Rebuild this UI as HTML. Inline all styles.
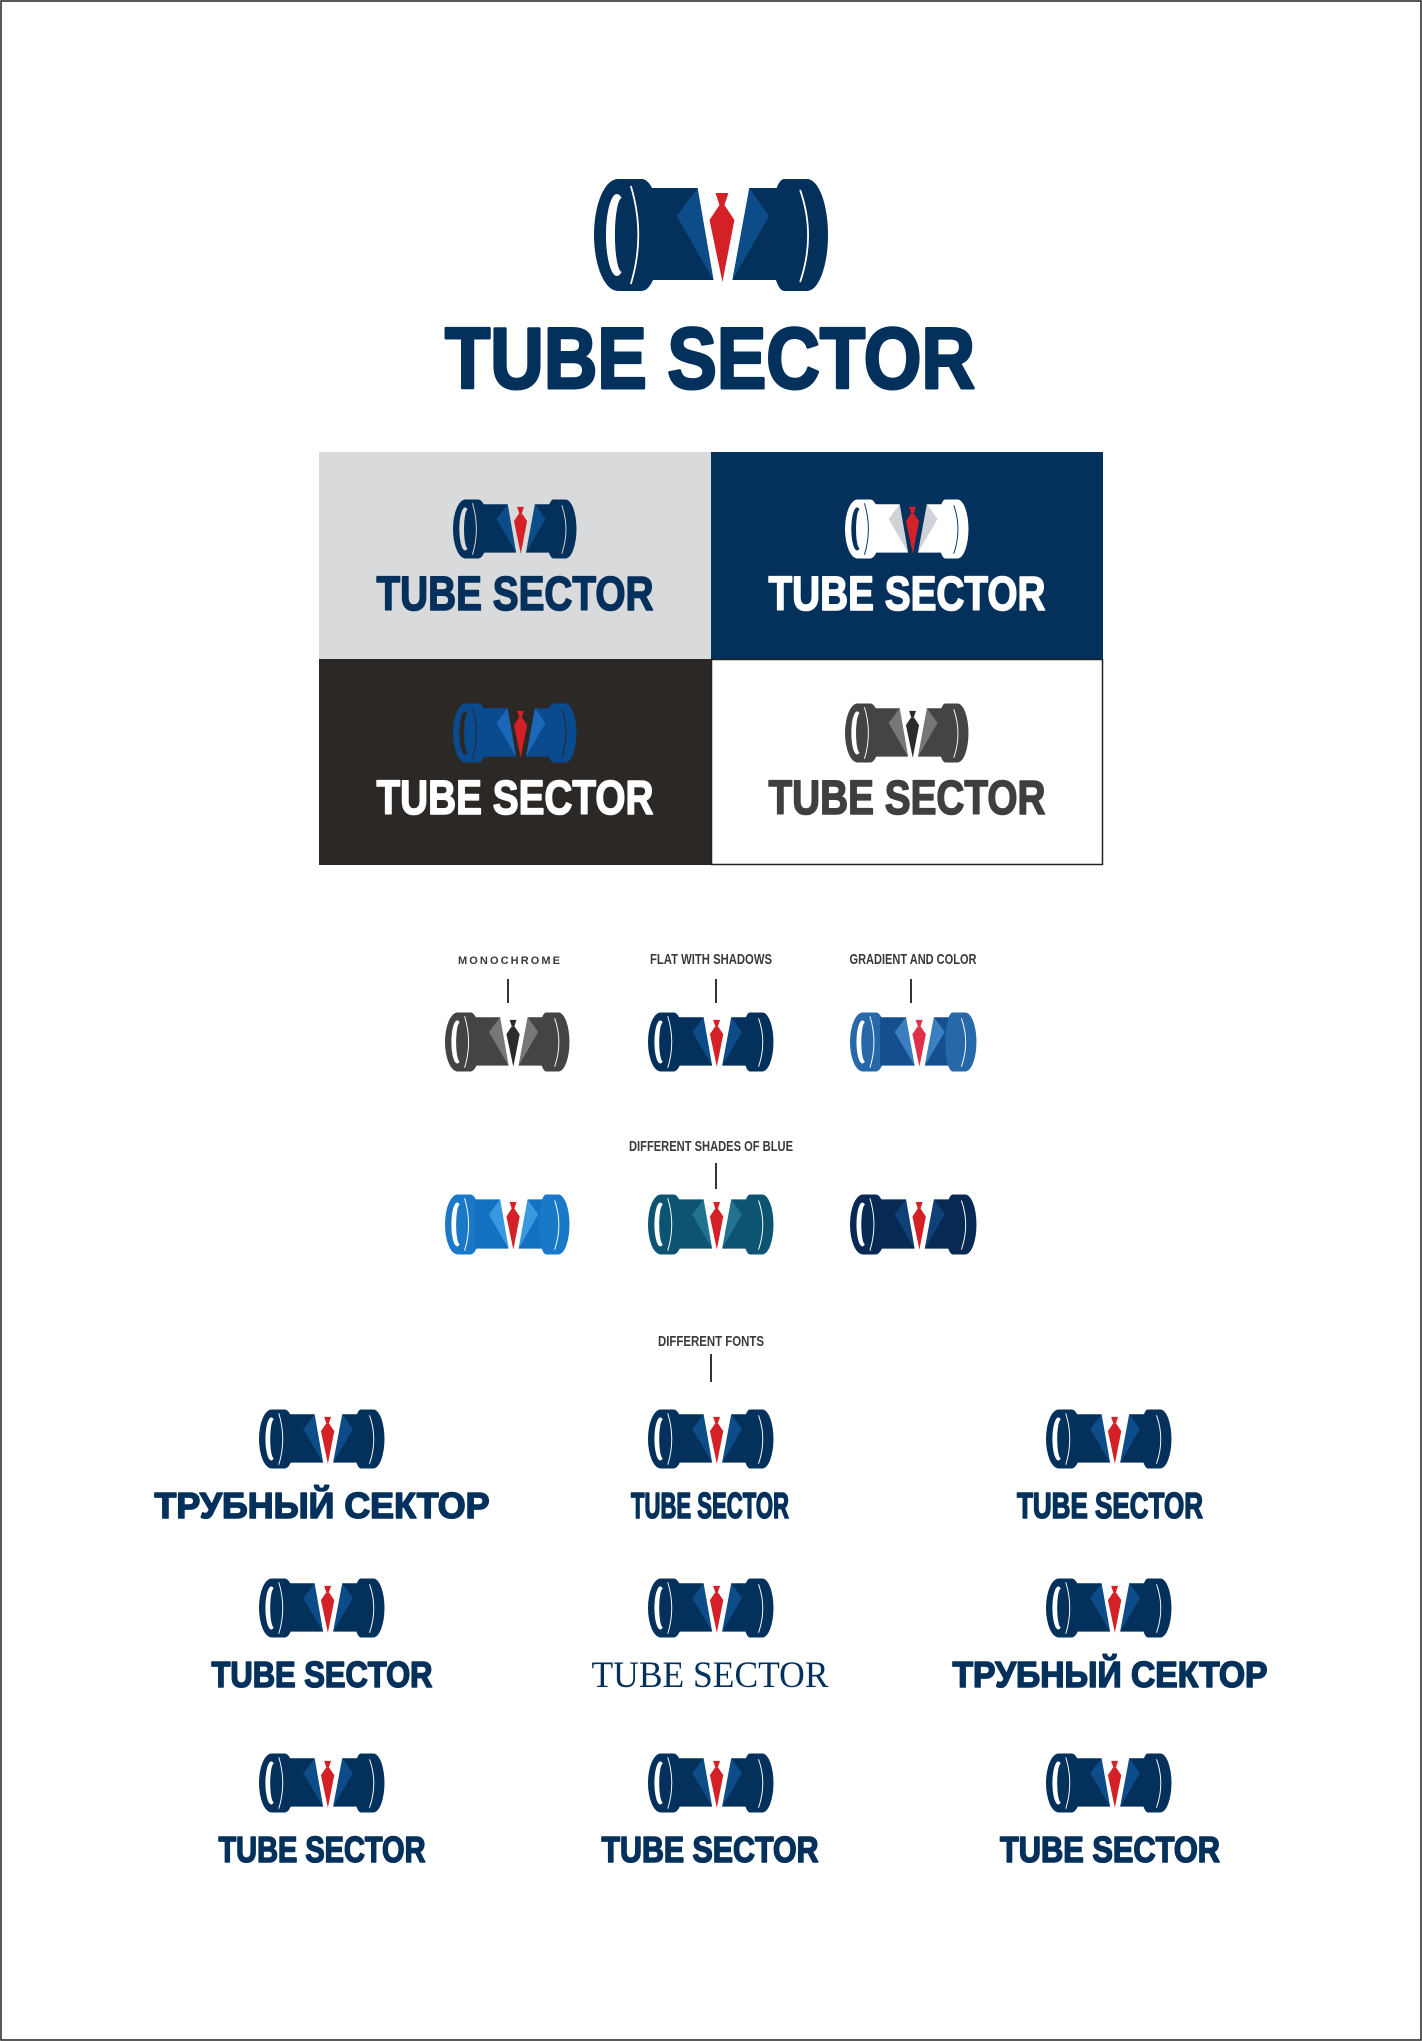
<!DOCTYPE html>
<html><head><meta charset="utf-8"><style>
html,body{margin:0;padding:0;background:#fff}
svg{display:block}
.t{font-family:"Liberation Sans","DejaVu Sans",sans-serif;font-weight:bold}
.lb{font-family:"Liberation Sans",sans-serif;font-weight:bold;font-size:15px;fill:#3a3a3a}
</style></head><body>
<svg width="1422" height="2041" viewBox="0 0 1422 2041" xmlns="http://www.w3.org/2000/svg">
<defs>
<symbol id="ic" viewBox="14 18 236 114" preserveAspectRatio="none">
 <path d="M38,19 L62,19 A19,56 0 0 1 62,131 L38,131 A24,56 0 0 1 38,19 Z" style="fill:var(--cap)"/>
 <ellipse cx="37" cy="75" rx="11" ry="41" style="fill:var(--hole)"/>
 <ellipse cx="42" cy="75" rx="7" ry="37" style="fill:var(--cap)"/>
 <path d="M51 26 Q66 75 51 124" style="fill:none;stroke:var(--hole);stroke-width:1.8"/>
 <polygon points="70,28 118,28 134,120 70,120" style="fill:var(--body)"/>
 <polygon points="118,28 97,56 134,120" style="fill:var(--lap)"/>
 <polygon points="136,33 149,33 145,45 140,45" style="fill:var(--tie)"/>
 <polygon points="140,45 145,45 155,60 143,122 130,60" style="fill:var(--tie)"/>
 <polygon points="170,28 205,28 205,120 153,120" style="fill:var(--body)"/>
 <polygon points="170,28 190,56 153,120" style="fill:var(--lap)"/>
 <path d="M205,19 L228,19 A21,56 0 0 1 228,131 L205,131 A14,56 0 0 1 205,19 Z" style="fill:var(--cap)"/>
 <path d="M221 30 Q237 75 221 122" style="fill:none;stroke:var(--hole);stroke-width:1.8"/>
</symbol>
</defs>
<style>
.nv{--cap:#04305c;--body:#04305c;--lap:#0c4c88;--tie:#d42027;--hole:#fff}
.nvg{--cap:#04305c;--body:#04305c;--lap:#0c4c88;--tie:#d42027;--hole:#d9dadb}
.wh{--cap:#fff;--body:#fff;--lap:#cfd2d6;--tie:#d42027;--hole:#04305c}
.dk{--cap:#0a4a8e;--body:#0a4a8e;--lap:#1c68b8;--tie:#d42027;--hole:#2b2826}
.gr{--cap:#444;--body:#444;--lap:#777;--tie:#2b2b2b;--hole:#fff}
.gd{--cap:#2768a8;--body:#164f8e;--lap:#3c7fc0;--tie:#e0304a;--hole:#fff}
.b1{--cap:#1a78c8;--body:#1470c0;--lap:#3a98e0;--tie:#d42027;--hole:#fff}
.b2{--cap:#0c5472;--body:#0c5472;--lap:#21728f;--tie:#d42027;--hole:#fff}
.b3{--cap:#072a55;--body:#072a55;--lap:#0f4078;--tie:#d42027;--hole:#fff}
.s3{stroke-width:3;stroke-linejoin:round}
.s2{stroke-width:1.6;stroke-linejoin:round}
</style>
<rect x="1" y="1" width="1420" height="2039" fill="#fff" stroke="#222" stroke-width="1.5"/>

<use href="#ic" class="nv" x="594" y="178" width="235" height="114"/>
<text class="t s3" x="710" y="388" font-size="86" fill="#04305c" stroke="#04305c" text-anchor="middle" textLength="530" lengthAdjust="spacingAndGlyphs">TUBE SECTOR</text>

<rect x="319" y="452" width="392" height="207" fill="#d9dadb"/>
<rect x="711" y="452" width="392" height="207" fill="#04305c"/>
<rect x="319" y="659" width="392" height="206" fill="#2b2826"/>
<rect x="711.5" y="659.5" width="391" height="205" fill="#fff" stroke="#222" stroke-width="1.5"/>

<use href="#ic" class="nvg" x="453" y="499" width="124" height="60"/>
<text class="t s2" x="515" y="610" font-size="48" fill="#04305c" stroke="#04305c" text-anchor="middle" textLength="277" lengthAdjust="spacingAndGlyphs">TUBE SECTOR</text>
<use href="#ic" class="wh" x="845" y="499" width="124" height="60"/>
<text class="t s2" x="907" y="610" font-size="48" fill="#fff" stroke="#fff" text-anchor="middle" textLength="277" lengthAdjust="spacingAndGlyphs">TUBE SECTOR</text>
<use href="#ic" class="dk" x="453" y="703" width="124" height="60"/>
<text class="t s2" x="515" y="814" font-size="48" fill="#fff" stroke="#fff" text-anchor="middle" textLength="277" lengthAdjust="spacingAndGlyphs">TUBE SECTOR</text>
<use href="#ic" class="gr" x="845" y="703" width="124" height="60"/>
<text class="t s2" x="907" y="814" font-size="48" fill="#3f3f3f" stroke="#3f3f3f" text-anchor="middle" textLength="277" lengthAdjust="spacingAndGlyphs">TUBE SECTOR</text>

<text class="lb" x="509" y="964" text-anchor="middle" font-size="11" style="font-size:11px" textLength="102" lengthAdjust="spacing">MONOCHROME</text>
<text class="lb" x="711" y="964" text-anchor="middle" textLength="122" lengthAdjust="spacingAndGlyphs">FLAT WITH SHADOWS</text>
<text class="lb" x="913" y="964" text-anchor="middle" textLength="127" lengthAdjust="spacingAndGlyphs">GRADIENT AND COLOR</text>
<g stroke="#333" stroke-width="2">
<line x1="508" y1="979" x2="508" y2="1003"/><line x1="716" y1="979" x2="716" y2="1003"/><line x1="911" y1="979" x2="911" y2="1003"/>
<line x1="716" y1="1163" x2="716" y2="1189"/><line x1="711" y1="1354" x2="711" y2="1382"/>
</g>
<use href="#ic" class="gr" x="445" y="1012" width="125" height="60"/>
<use href="#ic" class="nv" x="648" y="1012" width="126" height="60"/>
<use href="#ic" class="gd" x="850" y="1012" width="127" height="60"/>

<text class="lb" x="711" y="1151" text-anchor="middle" textLength="164" lengthAdjust="spacingAndGlyphs">DIFFERENT SHADES OF BLUE</text>
<use href="#ic" class="b1" x="445" y="1194" width="125" height="61"/>
<use href="#ic" class="b2" x="648" y="1194" width="126" height="61"/>
<use href="#ic" class="b3" x="850" y="1194" width="127" height="61"/>

<text class="lb" x="711" y="1346" text-anchor="middle" textLength="106" lengthAdjust="spacingAndGlyphs">DIFFERENT FONTS</text>

<use href="#ic" class="nv" x="259" y="1409" width="126" height="60"/>
<use href="#ic" class="nv" x="648" y="1409" width="126" height="60"/>
<use href="#ic" class="nv" x="1046" y="1409" width="126" height="60"/>
<use href="#ic" class="nv" x="259" y="1578" width="126" height="60"/>
<use href="#ic" class="nv" x="648" y="1578" width="126" height="60"/>
<use href="#ic" class="nv" x="1046" y="1578" width="126" height="60"/>
<use href="#ic" class="nv" x="259" y="1753" width="126" height="60"/>
<use href="#ic" class="nv" x="648" y="1753" width="126" height="60"/>
<use href="#ic" class="nv" x="1046" y="1753" width="126" height="60"/>

<g fill="#04305c" stroke="#04305c" text-anchor="middle">
<text class="t s2" x="322" y="1518" font-size="36" textLength="335" lengthAdjust="spacingAndGlyphs">ТРУБНЫЙ СЕКТОР</text>
<text class="t s2" x="710" y="1518" font-size="36" textLength="158" lengthAdjust="spacingAndGlyphs">TUBE SECTOR</text>
<text class="t s2" x="1110" y="1518" font-size="36" textLength="186" lengthAdjust="spacingAndGlyphs">TUBE SECTOR</text>
<text class="t s2" x="322" y="1687" font-size="36" textLength="221" lengthAdjust="spacingAndGlyphs">TUBE SECTOR</text>
<text x="710" y="1687" font-size="37" stroke="none" font-family="Liberation Serif, serif" textLength="237" lengthAdjust="spacingAndGlyphs">TUBE SECTOR</text>
<text class="t s2" x="1110" y="1687" font-size="36" textLength="315" lengthAdjust="spacingAndGlyphs">ТРУБНЫЙ СЕКТОР</text>
<text class="t s2" x="322" y="1862" font-size="36" textLength="207" lengthAdjust="spacingAndGlyphs">TUBE SECTOR</text>
<text class="t s2" x="710" y="1862" font-size="36" textLength="217" lengthAdjust="spacingAndGlyphs">TUBE SECTOR</text>
<text class="t s2" x="1110" y="1862" font-size="36" textLength="220" lengthAdjust="spacingAndGlyphs">TUBE SECTOR</text>
</g>
</svg>
</body></html>
